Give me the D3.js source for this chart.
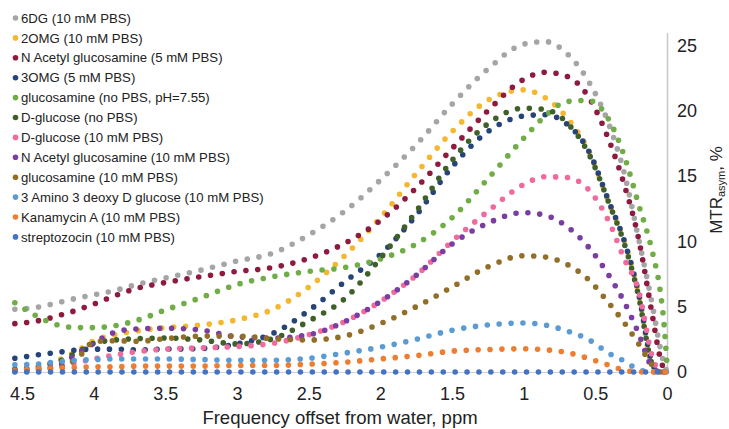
<!DOCTYPE html>
<html>
<head>
<meta charset="utf-8">
<script src="https://cdn.jsdelivr.net/npm/d3@7"></script>
<style>
  body { margin: 0; background: #fff; }
  svg { display: block; font-family: "Liberation Sans", Arial, Helvetica, sans-serif; }
</style>
</head>
<body>
<div id="chart"></div>
<script>
// frequency offsets (ppm) shared by every series
var offsets = [4.55, 4.4, 4.25, 4.1, 4.0, 3.85, 3.7, 3.5, 3.25, 3.0, 2.75, 2.5, 2.25, 2.0,
  1.75, 1.5, 1.25, 1.0, 0.85, 0.7, 0.55, 0.4, 0.3, 0.2, 0.1, 0.05, 0.02, 0];

var seriesNames = [
  "6DG (10 mM PBS)",
  "2OMG (10 mM PBS)",
  "N Acetyl glucosamine (5 mM PBS)",
  "3OMG (5 mM PBS)",
  "glucosamine (no PBS, pH=7.55)",
  "D-glucose (no PBS)",
  "D-glucose (10 mM PBS)",
  "N Acetyl glucosamine (10 mM PBS)",
  "glucosamine (10 mM PBS)",
  "3 Amino 3 deoxy D glucose (10 mM PBS)",
  "Kanamycin A (10 mM PBS)",
  "streptozocin (10 mM PBS)"
];

var seriesColors = ["#a5a5a5", "#f6b730", "#8e1a3e", "#264478", "#70ad47", "#3f6129",
  "#f06a9e", "#7a3ea3", "#926f28", "#5b9bd5", "#ed7d31", "#4472c4"];

// MTRasym, %
var sixDG      = [4.8, 4.95, 5.3, 5.7, 5.9, 6.25, 6.7, 7.2, 7.8, 8.5, 9.1, 10.5, 12.3, 14.7, 17.4, 20.5, 23.2, 25.1, 25.3, 24.4, 22.3, 18.8, 15.3, 10.3, 5.0, 2.0, 0.6, 0];
var twoOMG     = [0.2, 0.35, 0.9, 1.7, 2.4, 2.85, 3.15, 3.4, 3.6, 4.0, 4.8, 6.5, 8.9, 11.8, 15.2, 18.4, 20.8, 21.6, 21.0, 19.5, 17.0, 12.8, 10.1, 6.1, 0.4, 0, 0, 0];
var nAcetyl5   = [3.7, 3.9, 4.3, 4.8, 5.2, 5.85, 6.4, 6.85, 7.3, 7.7, 8.0, 8.7, 9.85, 11.6, 14.1, 17.1, 20.0, 22.4, 22.95, 22.65, 21.1, 17.6, 14.4, 10.3, 4.2, 1.2, 0.2, 0];
var threeOMG   = [1.05, 1.3, 1.5, 1.7, 1.75, 1.75, 1.7, 1.75, 1.8, 2.15, 2.95, 4.7, 6.9, 9.0, 12.0, 15.7, 18.4, 19.6, 19.7, 19.0, 17.0, 12.9, 10.1, 6.1, 0.6, 0, 0, 0];
var glcNnoPBS  = [5.3, 4.3, 3.6, 3.4, 3.4, 3.55, 3.95, 4.75, 5.7, 6.7, 7.3, 7.7, 8.0, 8.65, 9.8, 11.8, 14.8, 17.9, 19.6, 20.7, 20.8, 19.2, 16.6, 12.9, 9.1, 6.4, 3.6, 0.5];
var dGlcNoPBS  = [0.2, 0.4, 0.8, 1.6, 2.2, 2.45, 2.55, 2.6, 2.45, 2.15, 2.55, 3.9, 5.6, 8.7, 12.3, 16.2, 19.0, 20.2, 20.1, 19.1, 16.8, 12.8, 9.9, 5.9, 0.5, 0, 0, 0];
var dGlc10     = [0.1, 0.25, 0.4, 0.75, 1.0, 1.3, 1.55, 1.75, 1.85, 1.95, 2.2, 2.85, 3.85, 5.4, 7.4, 10.0, 12.3, 14.35, 14.95, 14.9, 14.0, 11.4, 8.7, 6.3, 1.1, 0, 0, 0];
var nAcetyl10  = [0.1, 0.2, 0.5, 1.5, 2.2, 3.05, 3.3, 3.35, 3.2, 2.7, 2.6, 2.85, 3.85, 5.4, 7.4, 9.8, 11.4, 12.2, 12.0, 11.15, 9.6, 7.3, 5.4, 3.0, 0.3, 0, 0, 0];
var glcN10     = [0.05, 0.15, 0.3, 1.2, 2.3, 2.4, 2.35, 2.55, 2.75, 2.75, 2.55, 2.45, 2.75, 3.7, 5.0, 6.5, 8.05, 8.9, 8.8, 8.25, 7.1, 5.2, 3.8, 2.2, 0.5, 0, 0, 0];
var amino3     = [0.55, 0.6, 0.8, 0.9, 0.95, 1.0, 1.0, 1.0, 0.95, 0.9, 0.9, 1.05, 1.45, 1.9, 2.5, 3.2, 3.6, 3.75, 3.6, 3.15, 2.5, 1.4, 0.85, 0.2, 0, 0, 0, 0];
var kanamycin  = [0.1, 0.25, 0.3, 0.35, 0.4, 0.4, 0.45, 0.45, 0.45, 0.5, 0.5, 0.6, 0.75, 1.0, 1.25, 1.6, 1.72, 1.78, 1.7, 1.5, 1.05, 0.5, 0.15, 0, 0, 0, 0, 0];
var streptozo  = [0, 0, 0, 0, 0, 0, 0, 0, 0, 0, 0, 0, 0, 0, 0, 0, 0, 0, 0, 0, 0, 0, 0, 0, 0, 0, 0, 0];

var seriesValues = [sixDG, twoOMG, nAcetyl5, threeOMG, glcNnoPBS, dGlcNoPBS,
  dGlc10, nAcetyl10, glcN10, amino3, kanamycin, streptozo];

var xTicks = [4.5, 4, 3.5, 3, 2.5, 2, 1.5, 1, 0.5, 0];
var yTicks = [0, 5, 10, 15, 20, 25];

var width = 729;
var height = 429;

var xScale = d3.scaleLinear().domain([4.556, 0]).range([14, 667]);
var yScale = d3.scaleLinear().domain([0, 26]).range([372, 32.4]);

var svg = d3.select("#chart").append("svg")
  .attr("width", width)
  .attr("height", height);

svg.append("rect").attr("width", width).attr("height", height).attr("fill", "#fff");

// bottom axis
var bottomAxis = d3.axisBottom(xScale).tickValues(xTicks).tickSize(0).tickPadding(15)
  .tickFormat(function (d) { return String(d); });
var gx = svg.append("g").attr("transform", "translate(0,372)").call(bottomAxis);
gx.select(".domain").attr("stroke", "#d0d0d0").attr("stroke-width", 1.2);
gx.selectAll("text").attr("font-size", 18).attr("fill", "#222").attr("font-family", null);

// right axis
var rightAxis = d3.axisRight(yScale).tickValues(yTicks).tickSize(0).tickPadding(10);
var gy = svg.append("g").attr("transform", "translate(667,0)").call(rightAxis);
gy.select(".domain").attr("stroke", "#c8c8c8").attr("stroke-width", 1.5);
gy.selectAll("text").attr("font-size", 18).attr("fill", "#222").attr("font-family", null);

// dotted curves
var line = d3.line()
  .x(function (d) { return xScale(d[0]); })
  .y(function (d) { return yScale(d[1]); })
  .curve(d3.curveMonotoneX);

seriesValues.forEach(function (values, i) {
  var points = offsets.map(function (o, j) { return [o, values[j]]; });
  svg.append("path")
    .attr("d", line(points))
    .attr("fill", "none")
    .attr("stroke", seriesColors[i])
    .attr("stroke-width", 5.6)
    .attr("stroke-linecap", "round")
    .attr("stroke-dasharray", "0,11.9");
});

// legend
var legend = svg.append("g").attr("class", "legend");
seriesNames.forEach(function (name, i) {
  var ly = 18 + i * 19.9;
  legend.append("circle").attr("cx", 15.5).attr("cy", ly).attr("r", 2.8).attr("fill", seriesColors[i]);
  legend.append("text").attr("x", 21).attr("y", ly).attr("dy", "0.35em")
    .attr("font-size", 13.2).attr("fill", "#222").text(name);
});

// axis titles
svg.append("text")
  .attr("x", 340).attr("y", 424)
  .attr("text-anchor", "middle")
  .attr("font-size", 18.5).attr("fill", "#222")
  .text("Frequency offset from water, ppm");

var yTitle = svg.append("text")
  .attr("transform", "translate(722,190) rotate(-90)")
  .attr("text-anchor", "middle")
  .attr("font-size", 17).attr("fill", "#222");
yTitle.append("tspan").text("MTR");
yTitle.append("tspan").attr("font-size", 11).attr("dy", 3).text("asym");
yTitle.append("tspan").attr("dy", -3).text(", %");
</script>
</body>
</html>
